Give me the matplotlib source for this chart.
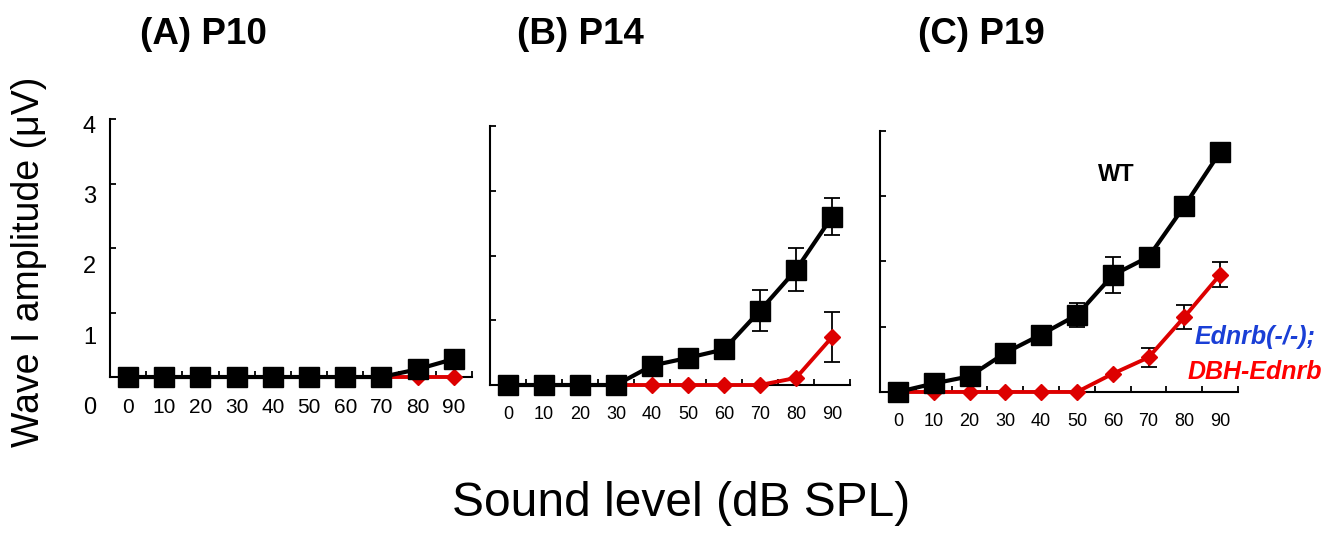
import matplotlib.pyplot as plt
import numpy as np

plt.rcParams['font.family'] = ['Liberation Sans', 'DejaVu Sans']

# sound levels (dB SPL)
levels = [0, 10, 20, 30, 40, 50, 60, 70, 80, 90]

# wave I amplitude (uV), WT = black, Ednrb(-/-);DBH-Ednrb = red
wt_p10 = [0, 0, 0, 0, 0, 0, 0, 0, 0.12, 0.28]
wt_p10_err = [0, 0, 0, 0, 0, 0, 0, 0, 0, 0]
ko_p10 = [0, 0, 0, 0, 0, 0, 0, 0, 0, 0]
ko_p10_err = [0, 0, 0, 0, 0, 0, 0, 0, 0, 0]

wt_p14 = [0, 0, 0, 0, 0.30, 0.42, 0.55, 1.15, 1.78, 2.60]
wt_p14_err = [0, 0, 0, 0, 0, 0, 0, 0.31, 0.33, 0.29]
ko_p14 = [0, 0, 0, 0, 0, 0, 0, 0, 0.11, 0.74]
ko_p14_err = [0, 0, 0, 0, 0, 0, 0, 0, 0, 0.39]

wt_p19 = [0, 0.13, 0.24, 0.60, 0.88, 1.18, 1.79, 2.07, 2.85, 3.68]
wt_p19_err = [0, 0, 0, 0, 0, 0.19, 0.28, 0, 0, 0]
ko_p19 = [0, 0, 0, 0, 0, 0, 0.28, 0.53, 1.15, 1.80]
ko_p19_err = [0, 0, 0, 0, 0, 0, 0, 0.14, 0.18, 0.19]

titles = ["(A) P10", "(B) P14", "(C) P19"]
y_tick_labels = ["0", "1", "2", "3", "4"]

panels = [(wt_p10, wt_p10_err, ko_p10, ko_p10_err),
          (wt_p14, wt_p14_err, ko_p14, ko_p14_err),
          (wt_p19, wt_p19_err, ko_p19, ko_p19_err)]

black = "black"
red = "#dd0000"

fig = plt.figure(figsize=(13.44, 5.36), dpi=100)

# axes rectangles (figure fraction)
rects = [[0.0818, 0.2966, 0.2693, 0.4813],
         [0.3646, 0.2817, 0.2679, 0.4832],
         [0.6548, 0.2687, 0.2664, 0.4869]]
title_x = [0.104, 0.385, 0.683]
xlab_size = [15, 13, 13]

axes = []
for i, (wt, wt_err, ko, ko_err) in enumerate(panels):
    ax = fig.add_axes(rects[i])
    x = np.array(levels)

    # red series underneath
    ax.plot(x, ko, color=red, lw=2.8, marker="D", ms=8.5, mfc=red, mec=red,
            clip_on=False, zorder=3)
    ko_err = np.array(ko_err)
    m = ko_err > 0
    if m.any():
        ax.errorbar(x[m], np.array(ko)[m], yerr=ko_err[m], fmt="none",
                    ecolor=black, elinewidth=1.3, capsize=6, capthick=1.3,
                    zorder=2)

    # black series on top
    ax.plot(x, wt, color=black, lw=3, marker="s", ms=14, mfc=black,
            mec=black, clip_on=False, zorder=5)
    wt_err = np.array(wt_err)
    m = wt_err > 0
    if m.any():
        ax.errorbar(x[m], np.array(wt)[m], yerr=wt_err[m], fmt="none",
                    ecolor=black, elinewidth=1.3, capsize=6, capthick=1.3,
                    zorder=4)

    ax.set_xlim(-5, 95)
    ax.set_ylim(0, 4)
    for s in ["top", "right"]:
        ax.spines[s].set_visible(False)
    for s in ["left", "bottom"]:
        ax.spines[s].set_linewidth(1.5)

    ax.set_xticks(levels)
    ax.set_xticklabels([str(v) for v in levels], fontsize=xlab_size[i])
    ax.set_xticks(np.arange(-5, 96, 10), minor=True)
    ax.tick_params(axis="x", which="major", length=0, pad=15)
    ax.tick_params(axis="x", which="minor", direction="in", length=4, width=1.3)
    ax.set_yticks([0, 1, 2, 3, 4])
    ax.set_yticklabels([])
    ax.tick_params(axis="y", direction="in", length=4, width=1.3)

    fig.text(title_x[i], 0.935, titles[i], fontsize=26.5, fontweight="bold",
             ha="left", va="center")
    axes.append(ax)

# y tick labels column (shared, shifted like the original)
lab_ax = fig.add_axes([0.0714, 0.2444, 0.001, 0.5224])
lab_ax.set_ylim(0, 4)
lab_ax.set_yticks([0, 1, 2, 3, 4])
lab_ax.set_yticklabels(y_tick_labels, fontsize=17)
lab_ax.set_xticks([])
lab_ax.tick_params(axis="y", length=0, pad=0)
for s in lab_ax.spines.values():
    s.set_visible(False)
lab_ax.patch.set_visible(False)

# annotations in panel C
axc = axes[2]
axc.text(61, 3.33, "WT", fontsize=17, fontweight="bold", ha="center", va="center")
axc.text(99.7, 0.84, "Ednrb(-/-);", fontsize=18, fontweight="bold", style="italic",
         color="#1a3fd6", ha="center", va="center")
axc.text(99.7, 0.31, "DBH-Ednrb", fontsize=18, fontweight="bold", style="italic",
         color="#ff0000", ha="center", va="center")

fig.text(0.0216, 0.511, "Wave I amplitude (\u03bcV)", fontsize=27, rotation=90,
         ha="center", va="center")
fig.text(0.507, 0.06, "Sound level (dB SPL)", fontsize=34.5, ha="center", va="center")

fig.savefig("out.png", dpi=100)
